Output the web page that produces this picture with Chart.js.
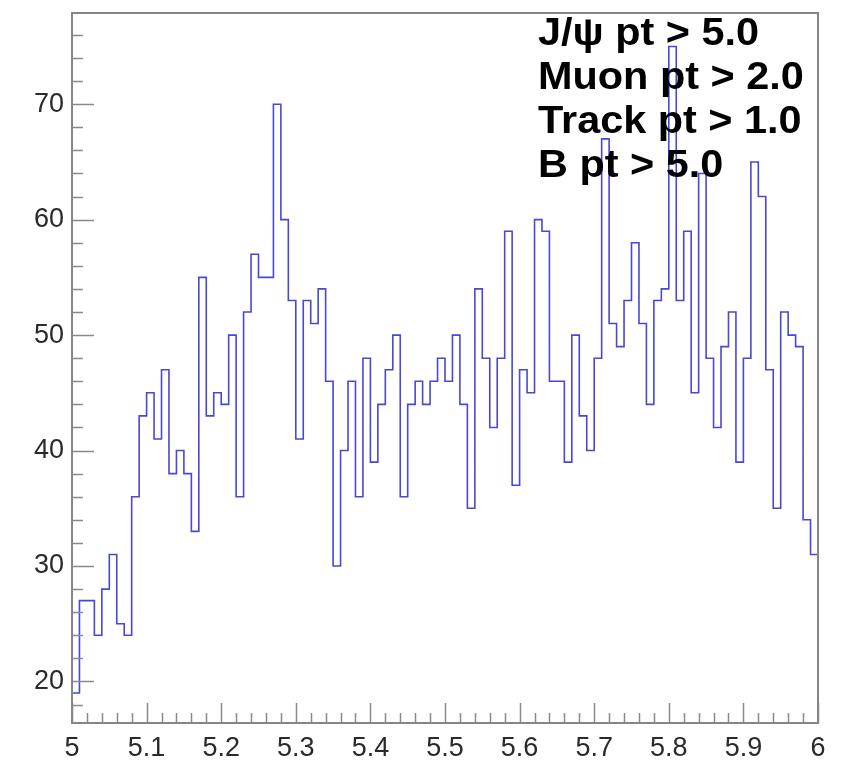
<!DOCTYPE html>
<html>
<head>
<meta charset="utf-8">
<title>B mass</title>
<script src="https://cdn.jsdelivr.net/npm/chart.js@4.4.1/dist/chart.umd.min.js"></script>
<style>
  html, body { margin: 0; padding: 0; background: #fff; }
  #wrap { width: 846px; height: 760px; }
</style>
</head>
<body>
<div id="wrap"><canvas id="hist" width="846" height="760"></canvas></div>
<script>
// histogram: 100 bins from 5.0 to 6.0
var xMin = 5.0;
var xMax = 6.0;
var binWidth = 0.01;
var counts = [
    19, 27, 27, 24, 28, 31, 25, 24, 36, 43,
    45, 41, 47, 38, 40, 38, 33, 55, 43, 45,
    44, 50, 36, 52, 57, 55, 55, 70, 60, 53,
    41, 53, 51, 54, 46, 30, 40, 46, 36, 48,
    39, 44, 47, 50, 36, 44, 46, 44, 46, 48,
    46, 50, 44, 35, 54, 48, 42, 48, 59, 37,
    47, 45, 60, 59, 46, 46, 39, 50, 43, 40,
    48, 67, 51, 49, 53, 58, 51, 44, 53, 54,
    75, 53, 59, 45, 64, 48, 42, 49, 52, 39,
    48, 65, 62, 47, 35, 52, 50, 49, 34, 31
];
var xTicks = [5, 5.1, 5.2, 5.3, 5.4, 5.5, 5.6, 5.7, 5.8, 5.9, 6];
var yTicks = [20, 30, 40, 50, 60, 70];
var yMin = 16.4;
var yMax = 77.9;
var infoLines = ["J/\u03c8 pt > 5.0", "Muon pt > 2.0", "Track pt > 1.0", "B pt > 5.0"];

// step outline: one point per low bin edge, plus the closing edge
var points = counts.map(function (c, i) {
    return { x: xMin + i * binWidth, y: c };
});
points.push({ x: xMax, y: counts[counts.length - 1] });

var tickFont = { family: "'Liberation Sans', Arial, sans-serif", size: 27 };

// ROOT style frame with ticks pointing inward
var rootFrame = {
    id: 'rootFrame',
    afterDatasetsDraw: function (chart) {
        var ctx = chart.ctx;
        var a = chart.chartArea;
        var xs = chart.scales.x;
        var ys = chart.scales.y;
        ctx.save();
        ctx.strokeStyle = '#8a8a8a';
        ctx.lineWidth = 1.5;
        ctx.beginPath();
        for (var k = 0; k <= 50; k++) {
            var px = Math.round(xs.getPixelForValue(xMin + k * 0.02)) + 0.5;
            var len = (k % 5 === 0) ? 20 : 10;
            ctx.moveTo(px, a.bottom);
            ctx.lineTo(px, a.bottom - len);
        }
        for (var v = 18; v <= 76; v += 2) {
            var py = Math.round(ys.getPixelForValue(v)) + 0.5;
            var l2 = (v % 10 === 0) ? 22 : 11;
            ctx.moveTo(a.left, py);
            ctx.lineTo(a.left + l2, py);
        }
        ctx.stroke();
        ctx.lineWidth = 2;
        ctx.strokeStyle = '#858585';
        ctx.strokeRect(a.left, a.top, a.right - a.left, a.bottom - a.top);
        ctx.restore();
    }
};

var infoText = {
    id: 'infoText',
    afterDraw: function (chart) {
        var ctx = chart.ctx;
        ctx.save();
        ctx.fillStyle = '#000';
        ctx.font = "bold 38px 'Liberation Sans', Arial, sans-serif";
        ctx.textBaseline = 'alphabetic';
        ctx.textAlign = 'left';
        for (var i = 0; i < infoLines.length; i++) {
            ctx.save();
            ctx.translate(538, 45 + i * 44);
            ctx.scale(1.09, 1);
            ctx.fillText(infoLines[i], 0, 0);
            ctx.restore();
        }
        ctx.restore();
    }
};

var config = {
    type: 'line',
    data: {
        datasets: [{
            data: points,
            stepped: true,
            borderColor: '#4848d4',
            borderWidth: 1.6,
            pointRadius: 0,
            fill: false
        }]
    },
    options: {
        responsive: false,
        animation: false,
        devicePixelRatio: 1,
        layout: { padding: { top: 13, right: 28, left: 0, bottom: 0 } },
        plugins: {
            legend: { display: false },
            tooltip: { enabled: false }
        },
        scales: {
            x: {
                type: 'linear',
                min: xMin,
                max: xMax,
                grid: { display: false, drawTicks: false },
                border: { display: false },
                afterBuildTicks: function (scale) {
                    scale.ticks = xTicks.map(function (v) { return { value: v }; });
                },
                afterFit: function (scale) {
                    scale.height = 37;
                    scale.paddingLeft = 0;
                    scale.paddingRight = 0;
                },
                ticks: {
                    font: tickFont,
                    color: '#2a2a2a',
                    padding: 9,
                    maxRotation: 0,
                    autoSkip: false,
                    callback: function (v) { return String(Math.round(v * 10) / 10); }
                }
            },
            y: {
                min: yMin,
                max: yMax,
                grid: { display: false, drawTicks: false },
                border: { display: false },
                afterBuildTicks: function (scale) {
                    scale.ticks = yTicks.map(function (v) { return { value: v }; });
                },
                afterFit: function (scale) {
                    scale.width = 72;
                    scale.paddingTop = 0;
                    scale.paddingBottom = 0;
                },
                ticks: {
                    font: tickFont,
                    color: '#2a2a2a',
                    padding: 8,
                    autoSkip: false,
                    callback: function (v) { return String(v); }
                }
            }
        }
    },
    plugins: [rootFrame, infoText]
};

var ctx = document.getElementById("hist").getContext("2d");
var myHist = new Chart(ctx, config);
</script>
</body>
</html>
